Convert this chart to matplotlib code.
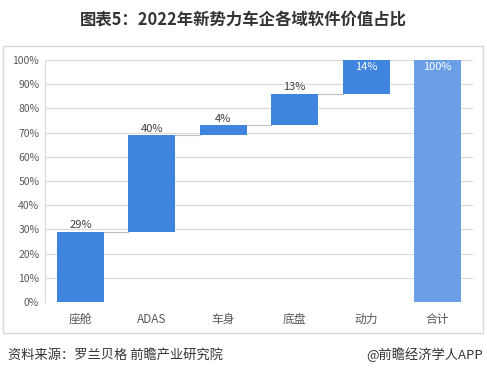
import matplotlib
matplotlib.use("Agg")
import matplotlib.pyplot as plt
from matplotlib.patches import Rectangle

plt.rcParams["font.family"] = ["Noto Sans CJK SC", "DejaVu Sans"]

# data
categories = ["座舱", "ADAS", "车身", "底盘", "动力", "合计"]
shares = [29, 40, 4, 13, 14, 100]
label_inside = [False, False, False, False, True, True]

STEP_COLOR = "#3F84DD"
TOTAL_COLOR = "#6A9FE8"
GRID = "#D9D9D9"

fig = plt.figure(figsize=(4.87, 3.76), dpi=100)
ax = fig.add_axes([44.8 / 487, 1 - 302 / 376, 428.4 / 487, 242 / 376])

# waterfall: steps stacked on running total, last bar is the total
bottoms = []
run = 0
for v in shares[:-1]:
    bottoms.append(run)
    run += v
bottoms.append(0)
colors = [STEP_COLOR] * (len(shares) - 1) + [TOTAL_COLOR]

x = list(range(len(categories)))
bars = ax.bar(x, shares, bottom=bottoms, width=0.66, color=colors, zorder=3)

# connector lines between bar tops
for i in range(len(shares) - 2):
    top = bottoms[i] + shares[i]
    ax.plot([i + 0.33, i + 1 - 0.33], [top, top], color="#BFBFBF", lw=0.8, zorder=2)

for i, (b, v) in enumerate(zip(bottoms, shares)):
    top = b + v
    if label_inside[i]:
        ax.text(i, top - 1.0, f"{v}%", ha="center", va="top", fontsize=8,
                color="white", zorder=4)
    else:
        ax.text(i, top + 0.6, f"{v}%", ha="center", va="bottom", fontsize=8,
                color="#404040", zorder=4)

ax.set_xlim(-0.5, len(categories) - 0.5)
ax.set_ylim(0, 100)
ax.set_yticks(range(0, 101, 10))
ax.set_yticklabels([f"{t}%" for t in range(0, 101, 10)], fontsize=7.5)
ax.set_xticks(x)
ax.set_xticklabels(categories, fontsize=8.5)
ax.tick_params(axis="both", length=0, colors="#595959")
ax.tick_params(axis="x", pad=8)
ax.tick_params(axis="y", pad=4)
ax.yaxis.grid(True, color=GRID, lw=0.8, zorder=0)
for s in ["top", "right", "bottom"]:
    ax.spines[s].set_visible(False)
ax.spines["left"].set_color(GRID)
ax.spines["left"].set_linewidth(0.8)

# outer frame
fig.patches.append(Rectangle((3 / 487, 1 - 333 / 376), 480 / 487, 287 / 376,
                             transform=fig.transFigure, fill=False,
                             edgecolor="#D9D9D9", lw=1))

fig.text(0.5, 1 - 20 / 376, "图表5：2022年新势力车企各域软件价值占比", ha="center",
         va="center", fontsize=11.8, fontweight="bold", color="#333333")
fig.text(8 / 487, 1 - 355 / 376, "资料来源：罗兰贝格 前瞻产业研究院", ha="left",
         va="center", fontsize=9.5, color="#333333")
fig.text(483 / 487, 1 - 355 / 376, "@前瞻经济学人APP", ha="right",
         va="center", fontsize=9.5, color="#333333")

fig.savefig("out.png", dpi=100)
